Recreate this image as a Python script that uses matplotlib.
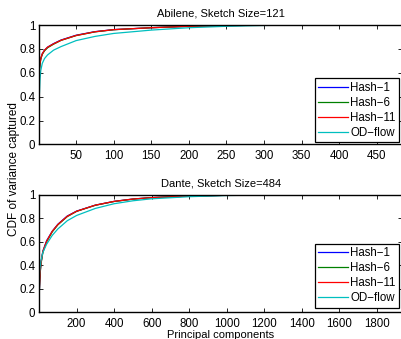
"""CDF of variance captured by principal components (Abilene / Dante)."""

import matplotlib
matplotlib.use("Agg")
import matplotlib.pyplot as plt
from matplotlib.ticker import FormatStrFormatter

plt.rcParams["font.family"] = ["Liberation Sans", "DejaVu Sans"]
plt.rcParams["font.size"] = 8

labels = ["Hash\u22121", "Hash\u22126", "Hash\u221211", "OD\u2212flow"]
colors = ["#0000ff", "#008000", "#ff0000", "#00bfbf"]

# Abilene, sketch size 121 (components 1..484)
abilene_x = [1, 2, 3, 5, 8, 12, 20, 30, 50, 75, 100, 150, 200, 250, 300, 350, 400, 484]
abilene_hash1 = [0.62, 0.68, 0.72, 0.76, 0.79, 0.815, 0.845, 0.875, 0.915, 0.945, 0.962, 0.978, 0.99, 0.996, 0.999, 1.0, 1.0, 1.0]
abilene_hash6 = [0.61, 0.67, 0.715, 0.755, 0.785, 0.81, 0.84, 0.872, 0.912, 0.943, 0.961, 0.978, 0.99, 0.996, 0.999, 1.0, 1.0, 1.0]
abilene_hash11 = [0.63, 0.685, 0.72, 0.76, 0.79, 0.815, 0.843, 0.873, 0.913, 0.944, 0.962, 0.978, 0.99, 0.996, 0.999, 1.0, 1.0, 1.0]
abilene_od = [0.40, 0.55, 0.62, 0.68, 0.72, 0.75, 0.79, 0.82, 0.87, 0.905, 0.93, 0.958, 0.978, 0.99, 0.997, 1.0, 1.0, 1.0]

# Dante, sketch size 484 (components 1..1936)
dante_x = [1, 5, 10, 20, 40, 70, 100, 150, 200, 300, 400, 500, 600, 800, 1000, 1200, 1500, 1936]
dante_hash1 = [0.17, 0.33, 0.42, 0.52, 0.61, 0.69, 0.75, 0.82, 0.862, 0.913, 0.945, 0.965, 0.977, 0.99, 0.997, 1.0, 1.0, 1.0]
dante_hash6 = [0.17, 0.32, 0.41, 0.51, 0.60, 0.685, 0.745, 0.815, 0.86, 0.912, 0.944, 0.964, 0.977, 0.99, 0.997, 1.0, 1.0, 1.0]
dante_hash11 = [0.18, 0.33, 0.42, 0.52, 0.605, 0.69, 0.748, 0.818, 0.861, 0.913, 0.945, 0.965, 0.977, 0.99, 0.997, 1.0, 1.0, 1.0]
dante_od = [0.30, 0.38, 0.44, 0.51, 0.58, 0.655, 0.71, 0.78, 0.825, 0.885, 0.925, 0.95, 0.967, 0.985, 0.995, 0.999, 1.0, 1.0]


def style_axes(ax, xmax, xticks, title):
    ax.set_xlim(1, xmax)
    ax.set_ylim(0, 1)
    ax.set_xticks(xticks)
    ax.set_yticks([0, 0.2, 0.4, 0.6, 0.8, 1.0])
    ax.yaxis.set_major_formatter(FormatStrFormatter("%g"))
    ax.tick_params(direction="in", length=3, width=0.6, top=True, right=True,
                   labelsize=8.3)
    ax.tick_params(axis="x", pad=4)
    ax.tick_params(axis="y", pad=3)
    for sp in ax.spines.values():
        sp.set_linewidth(1.0)
    ax.set_title(title, fontsize=8, pad=6)


fig = plt.figure(figsize=(4.01, 3.39), dpi=100)
ax1 = fig.add_axes([0.098, 0.574, 0.905, 0.352])
ax2 = fig.add_axes([0.098, 0.079, 0.905, 0.346])

top_series = [abilene_hash1, abilene_hash6, abilene_hash11, abilene_od]
for ys, lab, c in zip(top_series, labels, colors):
    ax1.plot(abilene_x, ys, color=c, linewidth=0.9, label=lab)
style_axes(ax1, 484, range(50, 451, 50), "Abilene, Sketch Size=121")

bot_series = [dante_hash1, dante_hash6, dante_hash11, dante_od]
for ys, lab, c in zip(bot_series, labels, colors):
    ax2.plot(dante_x, ys, color=c, linewidth=0.9, label=lab)
style_axes(ax2, 1936, range(200, 1801, 200), "Dante, Sketch Size=484")
ax2.set_xlabel("Principal components", labelpad=0)

for ax, anchor in [(ax1, (0.992, 0.019)), (ax2, (0.992, 0.037))]:
    leg = ax.legend(loc="lower right", bbox_to_anchor=anchor, borderaxespad=0,
                    fancybox=False, edgecolor="black", framealpha=1,
                    handlelength=2.6, handletextpad=0.2, labelspacing=0.26,
                    borderpad=0.3, fontsize=8.3)
    leg.get_frame().set_linewidth(0.9)

fig.text(0.035, 0.5, "CDF of variance captured", rotation=90,
         ha="center", va="center", fontsize=8.5)

fig.savefig("out.png", dpi=100)
